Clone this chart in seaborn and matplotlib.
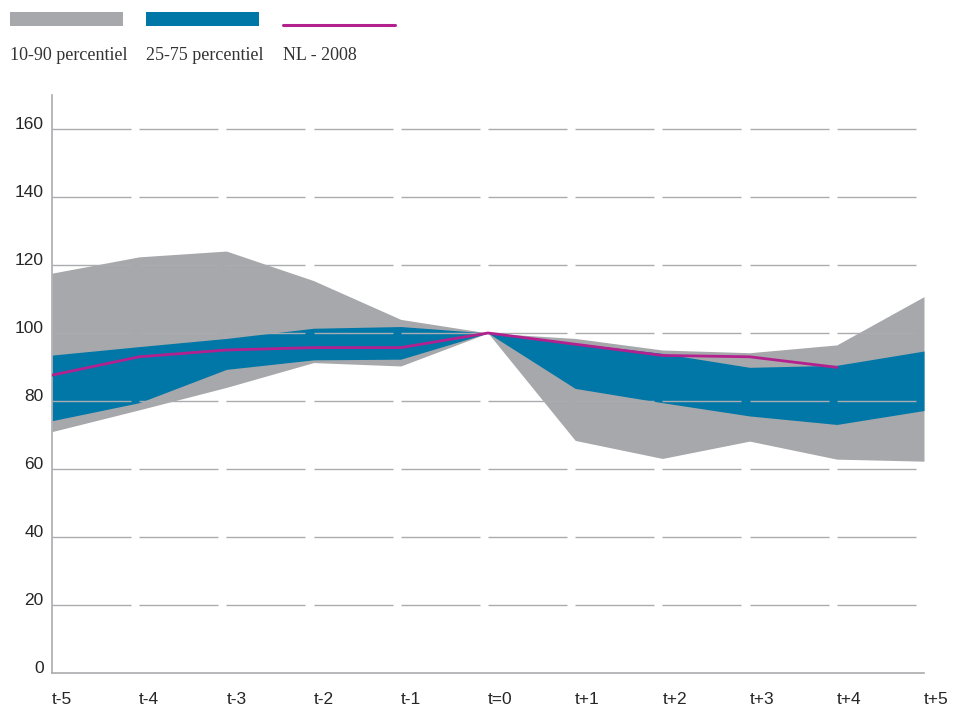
'''
Spreiding rond t=0: 10-90 en 25-75 percentiel banden met NL - 2008 lijn
'''
import pandas as pd
import matplotlib.pyplot as plt
from matplotlib.patches import Rectangle
from matplotlib.lines import Line2D
import seaborn as sns

'''
data read off the reference chart
'''
periods = ['t-5', 't-4', 't-3', 't-2', 't-1', 't=0', 't+1', 't+2', 't+3', 't+4', 't+5']
p10 = [71.0, 77.4, 84.0, 91.3, 90.3, 100, 68.4, 63.1, 68.2, 62.9, 62.3]
p25 = [74.2, 79.5, 89.3, 92.1, 92.3, 100, 83.7, 79.5, 75.6, 73.1, 77.2]
p75 = [93.5, 96.0, 98.4, 101.4, 101.9, 100, 97.0, 94.0, 89.9, 90.5, 94.7]
p90 = [117.6, 122.4, 124.1, 115.4, 104.0, 100, 98.4, 95.0, 94.2, 96.5, 110.7]
nl_2008 = [87.6, 93.0, 95.0, 95.7, 95.7, 100, 96.7, 93.4, 93.0, 89.9, None]
y_ticks = [0, 20, 40, 60, 80, 100, 120, 140, 160]

GRAY = '#a7a8ab'
BLUE = '#0077a7'
MAGENTA = '#b3218f'
GRID = '#abacaf'

df = pd.DataFrame({'period': periods, 'p10': p10, 'p25': p25,
                   'p75': p75, 'p90': p90, 'nl': nl_2008})
df['x'] = range(len(df))

sns.set_style('white')
fig = plt.figure(figsize=(9.54, 7.08), dpi=100)
ax = fig.add_axes([52 / 954, 1 - 673 / 708, 872 / 954, 578 / 708])

ax.fill_between(df['x'], df['p10'], df['p90'], color=GRAY, lw=0, zorder=1)
ax.fill_between(df['x'], df['p25'], df['p75'], color=BLUE, lw=0, zorder=2)

'''
segmented grid lines, one piece per period, drawn over the bands
'''
starts = df['x'].to_numpy()[:-1]
for y in y_ticks[1:]:
    ax.hlines([y] * len(starts), starts, starts + 0.906, color=GRID, lw=1, zorder=2.5)

sns.lineplot(data=df.dropna(), x='x', y='nl', color=MAGENTA, lw=2, ax=ax, zorder=3)

ax.set_xlim(0, 10)
ax.set_ylim(0, 170)
ax.set_xticks(df['x'])
ax.set_xticklabels(periods, ha='left', fontsize=12.5, family='Liberation Sans')
ax.set_yticks(y_ticks)
ax.set_yticklabels([str(v) for v in y_ticks], va='baseline', fontsize=12.5,
                   family='Liberation Sans')
ax.tick_params(axis='x', length=0, pad=14)
ax.tick_params(axis='y', length=0, pad=6)
ax.set_xlabel('')
ax.set_ylabel('')
for side in ['top', 'right']:
    ax.spines[side].set_visible(False)
for side in ['left', 'bottom']:
    ax.spines[side].set_color(GRID)
    ax.spines[side].set_linewidth(1.2)

'''
legend at the top, labels below the keys
'''
W, H = 954, 708
fig.add_artist(Rectangle((10 / W, 1 - 26 / H), 113 / W, 14 / H,
                         transform=fig.transFigure, color=GRAY, lw=0))
fig.add_artist(Rectangle((146 / W, 1 - 26 / H), 113 / W, 14 / H,
                         transform=fig.transFigure, color=BLUE, lw=0))
fig.add_artist(Line2D([283 / W, 395 / W], [1 - 25 / H, 1 - 25 / H],
                      transform=fig.transFigure, color=MAGENTA, lw=2.2))
for xpos, label in [(10, '10-90 percentiel'), (146, '25-75 percentiel'), (283, 'NL - 2008')]:
    fig.text(xpos / W, 1 - 55 / H, label, ha='left', va='center',
             fontsize=13, family='Liberation Serif', color='#333333')

fig.savefig('out.png', dpi=100)
